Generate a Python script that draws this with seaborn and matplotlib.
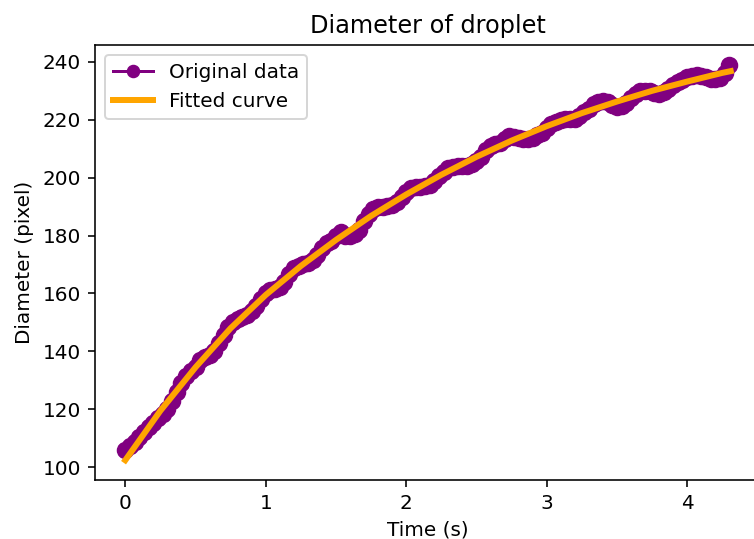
import numpy as np
import pandas as pd
import matplotlib
matplotlib.use("Agg")
import matplotlib.pyplot as plt
import seaborn as sns

# Measured droplet diameter (pixel), one value per video frame at 30 fps
fps = 30
diameter = [
    105.9, 107.4, 108.6, 110.4, 112.0, 113.8, 115.4, 116.9, 118.2, 120.0,
    122.8, 125.8, 129.2, 131.6, 133.3, 134.5, 137.0, 138.1, 138.8, 140.3,
    142.8, 145.8, 148.3, 150.3, 151.2, 151.8, 152.7, 153.9, 155.7, 158.0,
    160.2, 161.2, 161.5, 162.1, 164.1, 166.6, 168.7, 169.6, 170.1, 170.6,
    171.5, 173.4, 175.6, 177.3, 178.0, 180.0, 181.4, 179.9, 179.8, 180.5,
    182.0, 185.1, 187.6, 189.1, 189.8, 190.0, 190.3, 190.5, 191.5, 193.2,
    195.0, 196.3, 196.7, 196.9, 197.1, 197.6, 198.9, 200.5, 202.1, 203.3,
    203.8, 203.9, 204.0, 204.1, 204.6, 205.8, 207.2, 209.5, 210.9, 211.8,
    212.1, 213.3, 214.3, 214.2, 213.8, 213.5, 213.3, 213.6, 214.6, 215.6,
    217.1, 218.4, 219.3, 219.9, 220.2, 220.1, 220.3, 221.3, 222.6, 223.8,
    225.4, 226.3, 226.6, 226.0, 225.1, 224.5, 224.7, 225.9, 227.4, 228.9,
    229.8, 230.0, 229.8, 229.3, 229.0, 229.7, 230.8, 231.9, 233.0, 233.9,
    234.8, 235.2, 235.3, 235.2, 234.8, 234.2, 234.0, 234.3, 236.2, 239.0,
]
time = np.arange(len(diameter)) / fps

# Fitted curve
fit_time = [0.0, 0.25, 0.5, 0.75, 1.0, 1.25, 1.5, 1.75, 2.0, 2.25, 2.5,
            2.75, 3.0, 3.25, 3.5, 3.75, 4.0, 4.25, 4.31]
fit_diameter = [102.4, 119.5, 134.5, 148.0, 159.5, 169.5, 178.5, 186.8,
                194.2, 201.0, 207.2, 212.8, 217.8, 222.3, 226.3, 230.0,
                233.2, 236.2, 236.8]

df = pd.DataFrame({"Time": time, "Diameter": diameter})
df_fit = pd.DataFrame({"Time": fit_time, "Diameter": fit_diameter})

fig = plt.figure(figsize=(754 / 144, 539 / 144), dpi=144)
ax = fig.add_axes([95 / 754, 59 / 539, 666 / 754, 435 / 539])

sns.lineplot(data=df, x="Time", y="Diameter", ax=ax, color="purple",
             marker="o", markersize=8, markeredgecolor="purple",
             linewidth=1.5, label="Original data")
sns.lineplot(data=df_fit, x="Time", y="Diameter", ax=ax, color="orange",
             linewidth=3, label="Fitted curve")

ax.set_title("Diameter of droplet")
ax.set_xlabel("Time (s)")
ax.set_ylabel("Diameter (pixel)")
ax.set_xticks([0, 1, 2, 3, 4])
ax.set_yticks([100, 120, 140, 160, 180, 200, 220, 240])
leg = ax.legend(loc="upper left")
for h in leg.legend_handles:
    if h.get_label() == "Original data":
        h.set_markersize(6)

fig.savefig("out.png", dpi=144)
